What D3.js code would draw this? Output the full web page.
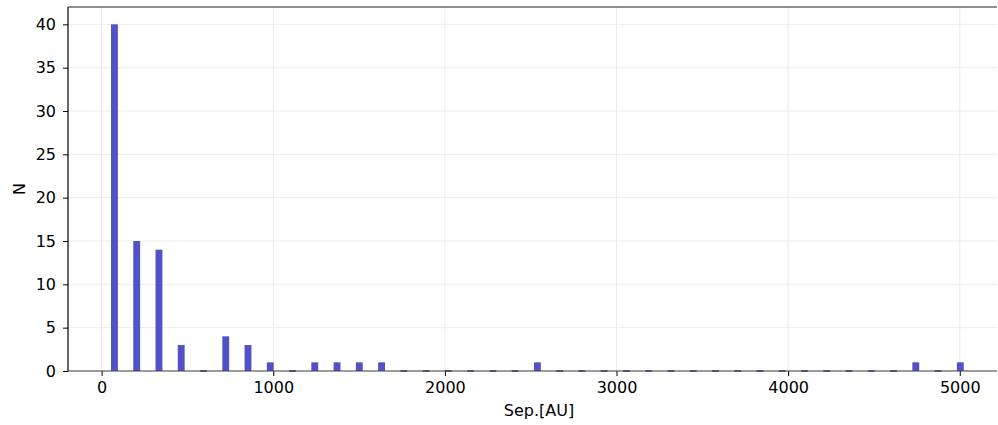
<!DOCTYPE html>
<html>
<head>
<meta charset="utf-8">
<script src="https://cdn.jsdelivr.net/npm/d3@7"></script>
<style>
body{margin:0;background:#fff;}
text{font-family:"DejaVu Sans",sans-serif;}
</style>
</head>
<body>
<svg id="chart" width="998" height="425"></svg>
<script>
const binCenters = [74.6,204.3,334,463.7,593.4,723.1,852.8,982.5,1112.2,1241.9,1371.6,1501.3,1631,1760.7,1890.4,2020.1,2149.8,2279.5,2409.2,2538.9,2668.6,2798.3,2928,3057.7,3187.4,3317.1,3446.8,3576.5,3706.2,3835.9,3965.6,4095.3,4225,4354.7,4484.4,4614.1,4743.8,4873.5,5003.2];
const counts = [40,15,14,3,0,4,3,1,0,1,1,1,1,0,0,0,0,0,0,1,0,0,0,0,0,0,0,0,0,0,0,0,0,0,0,0,1,0,1];
const xTicks = [0,1000,2000,3000,4000,5000];
const yTicks = [0,5,10,15,20,25,30,35,40];
const xLabel = "Sep.[AU]";
const yLabel = "N";

const svg = d3.select("#chart");
const L=68, R=997, T=7, B=371;
const x = d3.scaleLinear().domain([-196,5217]).range([L,R]);
const y = d3.scaleLinear().domain([0,42]).range([B,T]);
const barW = 40; // AU
const FS = 16;

// grid
svg.append("g").selectAll("line").data(xTicks).join("line")
  .attr("x1",d=>x(d)).attr("x2",d=>x(d)).attr("y1",T).attr("y2",B)
  .attr("stroke","#ebebeb").attr("stroke-width",1);
svg.append("g").selectAll("line").data(yTicks).join("line")
  .attr("x1",L).attr("x2",R).attr("y1",d=>y(d)).attr("y2",d=>y(d))
  .attr("stroke","#ebebeb").attr("stroke-width",1);

const data = binCenters.map((c,i)=>({c, n:counts[i]}));
// bars
svg.append("g").selectAll("rect").data(data.filter(d=>d.n>0)).join("rect")
  .attr("x",d=>x(d.c-barW/2)).attr("width",d=>x(d.c+barW/2)-x(d.c-barW/2))
  .attr("y",d=>y(d.n)).attr("height",d=>y(0)-y(d.n))
  .attr("fill","#5151c8");

// x axis
const xa = svg.append("g").attr("transform",`translate(0,${B})`)
  .call(d3.axisBottom(x).tickValues(xTicks).tickSize(5).tickPadding(6).tickFormat(d3.format("d")));
xa.select(".domain").remove();
xa.selectAll("line").attr("stroke","#000");
xa.selectAll("text").attr("font-size",FS).attr("fill","#000");
svg.append("line").attr("x1",L).attr("x2",R).attr("y1",B).attr("y2",B).attr("stroke","#444").attr("stroke-width",1.2);
// zero-height bar edges
svg.append("g").selectAll("line").data(data.filter(d=>d.n===0)).join("line")
  .attr("x1",d=>x(d.c-barW/2)).attr("x2",d=>x(d.c+barW/2))
  .attr("y1",B).attr("y2",B).attr("stroke","#2a2a60").attr("stroke-width",1.3);

// y axis
const ya = svg.append("g").attr("transform",`translate(${L},0)`)
  .call(d3.axisLeft(y).tickValues(yTicks).tickSize(5).tickPadding(7));
ya.select(".domain").remove();
ya.selectAll("line").attr("stroke","#000");
ya.selectAll("text").attr("font-size",FS).attr("fill","#000");
svg.append("line").attr("x1",L).attr("x2",L).attr("y1",T).attr("y2",B).attr("stroke","#000").attr("stroke-width",1.2);
svg.append("line").attr("x1",L).attr("x2",R).attr("y1",T).attr("y2",T).attr("stroke","#222").attr("stroke-width",1.2);

svg.append("text").attr("x",539).attr("y",416).attr("text-anchor","middle")
  .attr("font-size",FS).text(xLabel);
svg.append("text").attr("transform",`translate(25,189) rotate(-90)`).attr("text-anchor","middle")
  .attr("font-size",FS).text(yLabel);
</script>
</body>
</html>
